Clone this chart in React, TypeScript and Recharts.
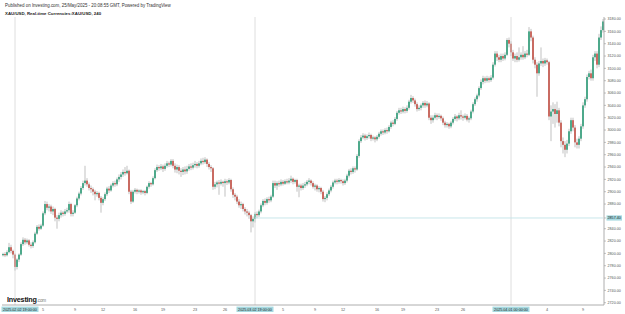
import React from "react";
import { ComposedChart, Bar, XAxis, YAxis, ReferenceLine } from "recharts";

// XAU/USD 4h candles, 31 Jan - 10 Apr 2025
const opens = [
  2797, 2799, 2797, 2802, 2810, 2804, 2798, 2778, 2790, 2798,
  2815, 2822, 2818, 2821, 2814, 2812, 2818, 2832, 2843, 2840,
  2845, 2865, 2880, 2874, 2876, 2868, 2872, 2858, 2856, 2862,
  2866, 2864, 2868, 2870, 2880, 2864, 2866, 2878, 2889, 2897,
  2906, 2914, 2918, 2912, 2906, 2904, 2900, 2896, 2898, 2890,
  2882, 2888, 2896, 2905, 2902, 2910, 2914, 2912, 2920, 2924,
  2928, 2932, 2930, 2934, 2900, 2884, 2900, 2903, 2900, 2902,
  2899, 2901, 2898, 2908, 2914, 2912, 2922, 2935, 2940, 2938,
  2941, 2937, 2942, 2946, 2944, 2950, 2942, 2936, 2940, 2934,
  2932, 2936, 2933, 2937, 2941, 2939, 2943, 2945, 2942, 2946,
  2950, 2948, 2952, 2945, 2940, 2938, 2908, 2912, 2915, 2913,
  2916, 2914, 2917, 2915, 2919, 2904, 2895, 2892, 2884, 2878,
  2880, 2872, 2868, 2866, 2862, 2852, 2856, 2864, 2862, 2868,
  2878, 2885, 2882, 2888, 2886, 2892, 2914, 2910, 2914, 2912,
  2916, 2913, 2917, 2915, 2918, 2921, 2916, 2919, 2908, 2910,
  2906, 2910, 2912, 2916, 2918, 2914, 2908, 2910, 2904, 2906,
  2900, 2888, 2890, 2896, 2902, 2908, 2915, 2918, 2916, 2919,
  2917, 2914, 2918, 2926, 2934, 2932, 2938, 2936, 2958, 2982,
  2988, 2991, 2987, 2990, 2992, 2986, 2988, 2985, 2989, 2994,
  2998, 2996, 3000, 2998, 3005, 3012, 3010, 3018, 3028, 3032,
  3030, 3034, 3031, 3036, 3046, 3052, 3048, 3042, 3034, 3036,
  3040, 3044, 3040, 3043, 3020, 3016, 3020, 3024, 3021, 3023,
  3019, 3012, 3008, 3010, 3006, 3012, 3018, 3022, 3019, 3024,
  3022, 3020, 3023, 3017, 3019, 3030, 3042, 3050, 3056, 3068,
  3078, 3084, 3080, 3084, 3081, 3085, 3106, 3124, 3118, 3114,
  3120, 3116, 3122, 3146, 3140, 3126, 3116, 3120, 3114, 3118,
  3122, 3118, 3124, 3122, 3160, 3150, 3114, 3106, 3092, 3108,
  3112, 3108, 3113, 3110, 3022, 3030, 3034, 3026, 3032, 3012,
  2982, 2976, 2968, 2978, 2998, 3016, 3004, 2980, 2976, 2986,
  3006, 3040, 3050, 3086, 3092, 3084, 3118, 3124, 3106, 3150,
  3162,
];

const highs = [
  2801, 2802, 2805, 2817, 2814, 2806, 2800, 2792, 2800, 2818,
  2826, 2825, 2824, 2823, 2818, 2821, 2835, 2846, 2847, 2848,
  2868, 2885, 2884, 2880, 2879, 2876, 2874, 2862, 2866, 2870,
  2869, 2872, 2874, 2884, 2882, 2870, 2880, 2892, 2900, 2909,
  2918, 2942, 2922, 2915, 2910, 2907, 2903, 2901, 2900, 2893,
  2891, 2899, 2908, 2909, 2913, 2917, 2918, 2923, 2928, 2932,
  2936, 2940, 2942, 2936, 2903, 2903, 2906, 2905, 2904, 2904,
  2903, 2903, 2910, 2917, 2916, 2925, 2938, 2944, 2943, 2945,
  2944, 2946, 2950, 2949, 2953, 2953, 2946, 2944, 2943, 2938,
  2940, 2941, 2942, 2945, 2946, 2947, 2950, 2948, 2950, 2954,
  2955, 2956, 2954, 2948, 2943, 2940, 2916, 2918, 2919, 2920,
  2918, 2921, 2920, 2922, 2921, 2907, 2898, 2895, 2888, 2884,
  2882, 2875, 2872, 2869, 2864, 2860, 2867, 2868, 2871, 2881,
  2888, 2889, 2891, 2892, 2895, 2918, 2918, 2917, 2918, 2920,
  2919, 2920, 2921, 2922, 2926, 2923, 2921, 2921, 2913, 2913,
  2914, 2916, 2919, 2922, 2920, 2917, 2913, 2912, 2909, 2908,
  2903, 2893, 2899, 2905, 2911, 2918, 2921, 2921, 2922, 2921,
  2920, 2921, 2929, 2937, 2938, 2941, 2941, 2961, 2985, 2992,
  2995, 2994, 2993, 2996, 2994, 2991, 2990, 2992, 2997, 3001,
  3001, 3003, 3004, 3008, 3015, 3016, 3021, 3031, 3036, 3036,
  3038, 3037, 3040, 3049, 3057, 3055, 3051, 3045, 3040, 3043,
  3047, 3048, 3047, 3045, 3024, 3024, 3028, 3027, 3027, 3025,
  3022, 3015, 3013, 3012, 3015, 3021, 3026, 3024, 3028, 3032,
  3025, 3027, 3026, 3022, 3033, 3045, 3053, 3059, 3071, 3082,
  3088, 3087, 3088, 3087, 3089, 3110, 3128, 3128, 3122, 3124,
  3124, 3126, 3149, 3150, 3144, 3130, 3124, 3126, 3134, 3126,
  3136, 3128, 3130, 3167, 3164, 3153, 3118, 3110, 3112, 3134,
  3116, 3117, 3116, 3112, 3040, 3045, 3042, 3046, 3036, 3016,
  2988, 2982, 2984, 3002, 3020, 3020, 3008, 2986, 2990, 3010,
  3045, 3054, 3090, 3096, 3098, 3122, 3128, 3128, 3156, 3168,
  3180,
];

const lows = [
  2795, 2794, 2795, 2800, 2800, 2792, 2772, 2774, 2786, 2796,
  2812, 2814, 2815, 2811, 2808, 2809, 2816, 2830, 2837, 2838,
  2843, 2862, 2870, 2868, 2864, 2862, 2852, 2840, 2852, 2858,
  2860, 2861, 2865, 2866, 2860, 2860, 2864, 2875, 2886, 2894,
  2903, 2910, 2908, 2902, 2898, 2894, 2886, 2892, 2886, 2866,
  2878, 2885, 2893, 2898, 2900, 2907, 2908, 2909, 2916, 2920,
  2924, 2926, 2928, 2896, 2880, 2882, 2897, 2896, 2897, 2895,
  2896, 2894, 2896, 2905, 2908, 2910, 2920, 2932, 2934, 2935,
  2932, 2934, 2939, 2940, 2941, 2938, 2931, 2930, 2928, 2924,
  2927, 2928, 2929, 2934, 2935, 2936, 2939, 2938, 2939, 2943,
  2944, 2945, 2940, 2936, 2932, 2903, 2904, 2907, 2895, 2910,
  2908, 2892, 2911, 2912, 2900, 2890, 2886, 2880, 2874, 2872,
  2868, 2863, 2860, 2856, 2834, 2842, 2850, 2857, 2859, 2865,
  2875, 2878, 2879, 2882, 2883, 2890, 2906, 2903, 2908, 2909,
  2910, 2911, 2912, 2912, 2914, 2912, 2913, 2900, 2891, 2902,
  2903, 2906, 2909, 2912, 2910, 2905, 2902, 2900, 2899, 2896,
  2884, 2883, 2886, 2893, 2899, 2905, 2912, 2912, 2913, 2913,
  2910, 2911, 2915, 2923, 2928, 2929, 2931, 2934, 2955, 2979,
  2985, 2983, 2984, 2986, 2982, 2983, 2980, 2982, 2986, 2991,
  2992, 2993, 2994, 2996, 3002, 3006, 3008, 3015, 3025, 3026,
  3027, 3027, 3028, 3033, 3043, 3044, 3038, 3030, 3031, 3032,
  3036, 3036, 3037, 3016, 3010, 3012, 3017, 3016, 3018, 3015,
  3008, 3004, 3004, 3002, 3003, 3009, 3015, 3014, 3016, 3017,
  3015, 3017, 3014, 3012, 3016, 3027, 3039, 3046, 3053, 3065,
  3074, 3076, 3077, 3077, 3078, 3082, 3103, 3112, 3110, 3110,
  3112, 3113, 3120, 3134, 3120, 3112, 3110, 3110, 3111, 3114,
  3114, 3115, 3118, 3120, 3144, 3108, 3100, 3054, 3088, 3104,
  3102, 3104, 3106, 3016, 2982, 3010, 3004, 3012, 3006, 2972,
  2962, 2956, 2962, 2974, 2994, 2998, 2972, 2970, 2970, 2982,
  3002, 3036, 3046, 3082, 3080, 3080, 3112, 3100, 3102, 3146,
  3158,
];

const closes = [
  2799, 2797, 2802, 2810, 2804, 2798, 2778, 2790, 2798, 2815,
  2822, 2818, 2821, 2814, 2812, 2818, 2832, 2843, 2840, 2845,
  2865, 2880, 2874, 2876, 2868, 2872, 2858, 2856, 2862, 2866,
  2864, 2868, 2870, 2880, 2864, 2866, 2878, 2889, 2897, 2906,
  2914, 2918, 2912, 2906, 2904, 2900, 2896, 2898, 2890, 2882,
  2888, 2896, 2905, 2902, 2910, 2914, 2912, 2920, 2924, 2928,
  2932, 2930, 2934, 2900, 2884, 2900, 2903, 2900, 2902, 2899,
  2901, 2898, 2908, 2914, 2912, 2922, 2935, 2940, 2938, 2941,
  2937, 2942, 2946, 2944, 2950, 2942, 2936, 2940, 2934, 2932,
  2936, 2933, 2937, 2941, 2939, 2943, 2945, 2942, 2946, 2950,
  2948, 2952, 2945, 2940, 2938, 2908, 2912, 2915, 2913, 2916,
  2914, 2917, 2915, 2919, 2904, 2895, 2892, 2884, 2878, 2880,
  2872, 2868, 2866, 2862, 2852, 2856, 2864, 2862, 2868, 2878,
  2885, 2882, 2888, 2886, 2892, 2914, 2910, 2914, 2912, 2916,
  2913, 2917, 2915, 2918, 2921, 2916, 2919, 2908, 2910, 2906,
  2910, 2912, 2916, 2918, 2914, 2908, 2910, 2904, 2906, 2900,
  2888, 2890, 2896, 2902, 2908, 2915, 2918, 2916, 2919, 2917,
  2914, 2918, 2926, 2934, 2932, 2938, 2936, 2958, 2982, 2988,
  2991, 2987, 2990, 2992, 2986, 2988, 2985, 2989, 2994, 2998,
  2996, 3000, 2998, 3005, 3012, 3010, 3018, 3028, 3032, 3030,
  3034, 3031, 3036, 3046, 3052, 3048, 3042, 3034, 3036, 3040,
  3044, 3040, 3043, 3020, 3016, 3020, 3024, 3021, 3023, 3019,
  3012, 3008, 3010, 3006, 3012, 3018, 3022, 3019, 3024, 3022,
  3020, 3023, 3017, 3019, 3030, 3042, 3050, 3056, 3068, 3078,
  3084, 3080, 3084, 3081, 3085, 3106, 3124, 3118, 3114, 3120,
  3116, 3122, 3146, 3140, 3126, 3116, 3120, 3114, 3118, 3122,
  3118, 3124, 3122, 3160, 3150, 3114, 3106, 3092, 3108, 3112,
  3108, 3113, 3110, 3022, 3030, 3034, 3026, 3032, 3012, 2982,
  2976, 2968, 2978, 2998, 3016, 3004, 2980, 2976, 2986, 3006,
  3040, 3050, 3086, 3092, 3084, 3118, 3124, 3106, 3150, 3162,
  3176,
];

const priceTicks = [
  2720, 2740, 2760, 2780, 2800, 2820, 2840, 2857.4, 2880, 2900, 2920, 2940,
  2960, 2980, 3000, 3020, 3040, 3060, 3080, 3100, 3120, 3140, 3160, 3180,
];
const markedPrice = 2857.4;

// bar index -> day label on the time axis
const dayTicks: Record<number, string> = {
  20: "5", 36: "9", 50: "12", 66: "16", 80: "19", 96: "23", 111: "26",
  140: "5", 156: "9", 170: "12", 187: "16", 200: "19", 217: "23", 230: "26",
  272: "4", 290: "9",
};
// bar index -> highlighted date marker
const dateMarks: Record<number, string> = {
  6: "2025.02.02 19:00:00",
  126: "2025.03.02 19:00:00",
  254: "2025.04.01 00:00:00",
};

const data = closes.map((c, i) => ({
  i,
  open: opens[i],
  high: highs[i],
  low: lows[i],
  close: c,
  range: [lows[i], highs[i]],
}));

const GREEN = "#35a07d";
const RED = "#c5574d";
const WICK = "#a8a8a8";
const MARK = "#a6d9e0";
const FONT = "'Liberation Sans', Arial, sans-serif";

function Candle(props: any) {
  const { x, y, width, height, payload } = props;
  if (x == null || y == null) return <g />;
  const { open, close, high, low } = payload;
  const k = high === low ? 0 : height / (high - low);
  const top = y + (high - Math.max(open, close)) * k;
  const bot = y + (high - Math.min(open, close)) * k;
  const cx = x + width / 2;
  return (
    <g>
      <line x1={cx} x2={cx} y1={y} y2={y + height} stroke={WICK} strokeWidth={0.7} />
      <rect
        x={cx - 0.85}
        y={top}
        width={1.7}
        height={Math.max(bot - top, 0.6)}
        fill={close >= open ? GREEN : RED}
      />
    </g>
  );
}

function TimeTick(props: any) {
  const { x, payload } = props;
  const idx = payload.value;
  const mark = dateMarks[idx];
  if (mark) {
    const w = 37;
    const left = Math.max(1.5, x - w / 2);
    return (
      <g>
        <rect x={left} y={306.6} width={w} height={5.4} fill={MARK} />
        <text x={left + w / 2} y={310.6} textAnchor="middle" fontSize={3.7} fontFamily={FONT} fill="#1a1a1a">
          {mark}
        </text>
      </g>
    );
  }
  const d = dayTicks[idx];
  if (d) {
    return (
      <text x={x} y={310.6} textAnchor="middle" fontSize={3.8} fontFamily={FONT} fill="#555">
        {d}
      </text>
    );
  }
  return <g />;
}

function PriceTick(props: any) {
  const { x, y, payload } = props;
  const v = payload.value;
  if (v === markedPrice) {
    return (
      <g>
        <rect x={x - 1} y={y - 2.6} width={15.5} height={5.2} fill={MARK} />
        <text x={x} y={y + 1.3} fontSize={3.7} fontFamily={FONT} fill="#1a1a1a">
          {v.toFixed(2)}
        </text>
      </g>
    );
  }
  return (
    <text x={x} y={y + 1.3} fontSize={3.7} fontFamily={FONT} fill="#555">
      {v.toFixed(2)}
    </text>
  );
}

export default function App() {
  return (
    <div style={{ position: "absolute", left: 0, top: 0, width: 625, height: 314, background: "#fff" }}>
      <ComposedChart
        width={625}
        height={314}
        data={data}
        margin={{ top: 17, right: 0, bottom: 0, left: 2 }}
        barCategoryGap={0}
      >
        <XAxis
          dataKey="i"
          interval={0}
          height={9}
          tick={<TimeTick />}
          tickLine={false}
          axisLine={{ stroke: "#999", strokeWidth: 0.8 }}
        />
        <YAxis
          orientation="right"
          width={21}
          domain={[2716.3, 3183.3]}
          allowDataOverflow
          ticks={priceTicks}
          interval={0}
          tick={<PriceTick />}
          tickSize={2}
          tickMargin={1.5}
          tickLine={{ stroke: "#999", strokeWidth: 0.6 }}
          axisLine={{ stroke: "#999", strokeWidth: 0.8 }}
        />
        {Object.keys(dateMarks).map((k) => (
          <ReferenceLine key={k} x={Number(k)} stroke="#d6d6d6" strokeWidth={0.8} />
        ))}
        <ReferenceLine
          segment={[
            { x: 126, y: markedPrice },
            { x: 300, y: markedPrice },
          ]}
          stroke="#c3e3e8"
          strokeWidth={0.9}
        />
        <Bar dataKey="range" shape={Candle} isAnimationActive={false} />
      </ComposedChart>
      <svg
        width={625}
        height={314}
        style={{ position: "absolute", left: 0, top: 0, pointerEvents: "none" }}
      >
        <text x={5} y={7.2} fontSize={4.45} fontFamily={FONT} fill="#333">
          Published on Investing.com, 25/May/2025 - 20:08:55 GMT, Powered by TradingView
        </text>
        <text x={5} y={14.8} fontSize={4.35} fontWeight="bold" fontFamily={FONT} fill="#222">
          XAU/USD, Real-time Currencies:XAU/USD, 240
        </text>
        <text x={7} y={301.5} fontSize={7.2} fontWeight="bold" fontFamily={FONT} fill="#111" letterSpacing={-0.2}>
          Investing
          <tspan fontSize={4.6} fontWeight="normal" fill="#777">.com</tspan>
        </text>
      </svg>
    </div>
  );
}
